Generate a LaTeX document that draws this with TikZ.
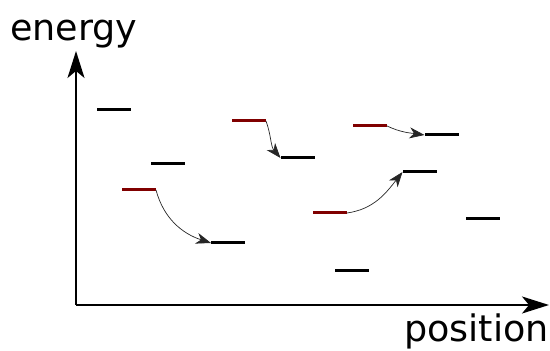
\documentclass[tikz,border=0pt]{standalone}
\usepackage{fontspec}
\setmainfont{DejaVu Sans}
\usetikzlibrary{arrows.meta}
\definecolor{levelred}{RGB}{128,0,0}
\tikzset{
  level/.style={rectangle, fill=black, minimum width=34pt, minimum height=3pt, inner sep=0pt, outer sep=0pt},
  redlevel/.style={level, fill=levelred},
  axis/.style={line width=1.8pt, -{Stealth[length=27pt, width=17pt, inset=7pt]}},
  hop/.style={line width=0.7pt, draw=black!85, -{Stealth[length=15pt, width=11pt, inset=4.5pt]}},
  label/.style={font=\fontsize{36.5}{42}\selectfont, inner sep=0pt}
}
\begin{document}
\begin{tikzpicture}[x=1pt, y=1pt]
  \useasboundingbox (0,0) rectangle (550,351);
  % axes
  \coordinate (o) at (76,46);
  \coordinate (ytip) at (76,300);
  \coordinate (xtip) at (549,46);
  \draw[axis] (o) -- (ytip);
  \draw[axis] (o) -- (xtip);
  \node[label, anchor=base west] (ylab) at (10,310) {energy};
  \node[label, anchor=base east] (xlab) at (549,9) {position};
  % energy levels
  \node[level] (b1) at (114,241) {};
  \node[level] (b2) at (168,187) {};
  \node[level] (b3) at (228,108) {};
  \node[level] (b4) at (297.5,193) {};
  \node[level] (b5) at (441.5,216) {};
  \node[level] (b6) at (419.5,179) {};
  \node[level] (b7) at (482.5,132) {};
  \node[level] (b8) at (351.5,80) {};
  \node[redlevel] (r1) at (139,161) {};
  \node[redlevel] (r2) at (249,230) {};
  \node[redlevel] (r3) at (370,225) {};
  \node[redlevel] (r4) at (330,138) {};
  % transitions
  \draw[hop] (r1.east) to[out=-75, in=162] (b3.west);
  \draw[hop] (r2.east) to[out=-70, in=130] (b4.west);
  \draw[hop] (r3.east) to[out=-25, in=172] (b5.west);
  \draw[hop] (r4.east) to[out=8, in=-128] (b6.west);
\end{tikzpicture}
\end{document}
